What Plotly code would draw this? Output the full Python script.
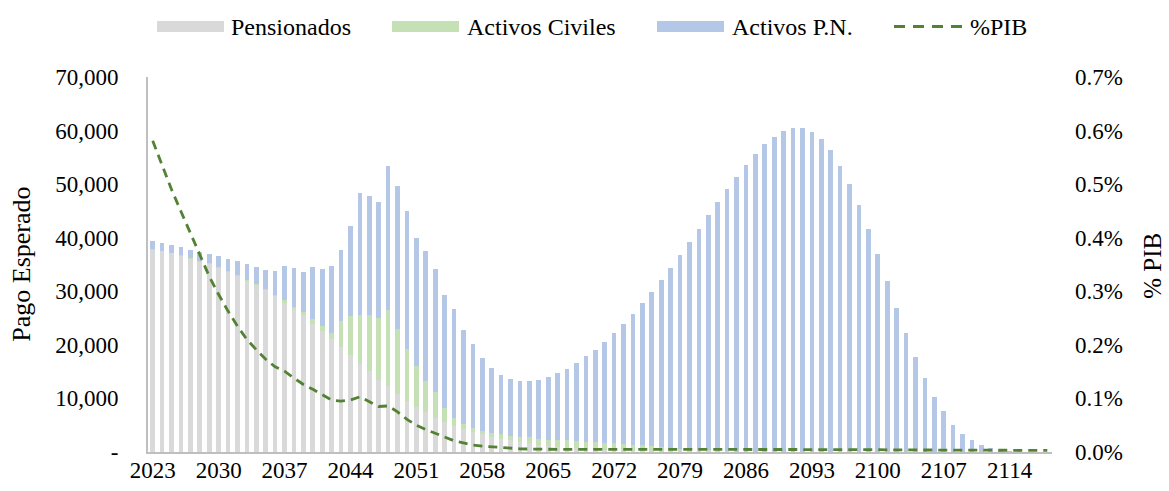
import plotly.graph_objects as go

years = list(range(2023, 2119))

pensionados = [
    37800, 37450, 37060, 36680, 36110, 35540, 35090, 34400, 33640, 32880,
    31930, 31100, 30150, 29070, 27880, 26710, 25500, 23970, 22600, 21110,
    19590, 18070, 16510, 15140, 13530, 12250, 10850, 9610, 8430, 7430,
    6370, 5690, 4940, 4320, 3760, 3270, 2890, 2460, 2150, 1840,
    1590, 1340, 1090, 960, 840, 720, 590, 470, 380, 300,
    230, 170, 120, 80, 50, 30, 20, 10, 5, 0,
    0, 0, 0, 0, 0, 0, 0, 0, 0, 0,
    0, 0, 0, 0, 0, 0, 0, 0, 0, 0,
    0, 0, 0, 0, 0, 0, 0, 0, 0, 0,
    0, 0, 0, 0, 0, 0,
]

activos_civiles = [
    150, 150, 160, 170, 180, 190, 200, 210, 220, 240,
    250, 270, 290, 320, 440, 430, 560, 900, 960, 1180,
    4850, 7400, 9140, 10360, 11500, 14340, 12130, 9700, 7710, 5780,
    4850, 2450, 1470, 1000, 750, 740, 750, 810, 870, 1050,
    1120, 1180, 1240, 1310, 1310, 1360, 1370, 1370, 1330, 1300,
    1280, 1170, 1150, 1070, 970, 810, 630, 520, 400, 300,
    200, 130, 80, 50, 30, 20, 10, 0, 0, 0,
    0, 0, 0, 0, 0, 0, 0, 0, 0, 0,
    0, 0, 0, 0, 0, 0, 0, 0, 0, 0,
    0, 0, 0, 0, 0, 0,
]

activos_pn = [
    1390, 1490, 1430, 1370, 1430, 1680, 1740, 1930, 2240, 2610,
    2990, 3180, 3490, 4350, 6480, 7280, 7620, 9740, 10610, 12510,
    13340, 16790, 22700, 22360, 21710, 26860, 26740, 25690, 23880, 24380,
    23020, 21180, 20240, 17540, 15670, 13500, 12000, 11130, 10630, 10390,
    10510, 11010, 11690, 12440, 13430, 14560, 15920, 17280, 18910, 20630,
    22460, 24500, 26560, 28790, 31160, 33580, 36070, 38620, 41230, 43890,
    46470, 48910, 51320, 53590, 55600, 57410, 58850, 59980, 60480, 60480,
    59800, 58430, 56380, 53450, 50090, 46180, 41700, 36970, 32000, 26960,
    22170, 17820, 13840, 10360, 7620, 5070, 3270, 2150, 1340, 780,
    400, 220, 100, 50, 20, 10,
]

pct_pib = [
    0.581, 0.535, 0.490, 0.449, 0.409, 0.368, 0.328, 0.294, 0.263, 0.235,
    0.210, 0.191, 0.173, 0.159, 0.151, 0.138, 0.126, 0.117, 0.107, 0.097,
    0.095, 0.097, 0.103, 0.094, 0.085, 0.086, 0.075, 0.061, 0.050, 0.042,
    0.035, 0.028, 0.021, 0.017, 0.013, 0.011, 0.0095, 0.008, 0.007, 0.006,
    0.0055, 0.005, 0.005, 0.005, 0.005, 0.005, 0.005, 0.005, 0.005, 0.005,
    0.005, 0.005, 0.005, 0.005, 0.005, 0.005, 0.005, 0.005, 0.005, 0.005,
    0.005, 0.005, 0.005, 0.005, 0.005, 0.005, 0.0055, 0.0055, 0.0055, 0.0055,
    0.005, 0.005, 0.005, 0.005, 0.005, 0.005, 0.0045, 0.0045, 0.004, 0.004,
    0.004, 0.0035, 0.0035, 0.003, 0.003, 0.003, 0.003, 0.003, 0.003, 0.003,
    0.003, 0.003, 0.003, 0.003, 0.003, 0.003,
]
pct_pib_frac = [v / 100 for v in pct_pib]

left_ticks = [0, 10000, 20000, 30000, 40000, 50000, 60000, 70000]
left_ticktext = ["-", "10,000", "20,000", "30,000", "40,000", "50,000", "60,000", "70,000"]
x_ticks = list(range(2023, 2115, 7))

legend_names = ["Pensionados", "Activos Civiles", "Activos P.N.", "%PIB"]
GRAY, GREEN, BLUE, LINE = "#D9D9D9", "#C5E0B4", "#B4C7E7", "#548235"

FONT = "Liberation Serif"
FS_TICK = 23
FS_LEG = 24
FS_TITLE = 25
W, H = 1169, 491
ML, MR, MT, MB = 148, 117, 77, 38.5
PW, PH = W - ML - MR, H - MT - MB


def px_x(px):
    return (px - ML) / PW


def px_y(py):
    return (H - MB - py) / PH


fig = go.Figure()
fig.add_trace(go.Bar(x=years, y=pensionados, name=legend_names[0], showlegend=False,
                     marker=dict(color=GRAY, line=dict(width=0))))
fig.add_trace(go.Bar(x=years, y=activos_civiles, name=legend_names[1], showlegend=False,
                     marker=dict(color=GREEN, line=dict(width=0))))
fig.add_trace(go.Bar(x=years, y=activos_pn, name=legend_names[2], showlegend=False,
                     marker=dict(color=BLUE, line=dict(width=0))))
fig.add_trace(go.Scatter(x=years, y=pct_pib_frac, name=legend_names[3], yaxis="y2",
                         mode="lines", showlegend=False,
                         line=dict(color=LINE, width=2.8, dash="9px,6px")))

# custom legend (wide keys like the reference)
shapes = []
annotations = []
key_x = [(157, 224), (392, 459), (657, 724), (894, 962)]
text_x = [229, 465, 730, 968]
key_colors = [GRAY, GREEN, BLUE]
for i in range(3):
    x0, x1 = key_x[i]
    shapes.append(dict(type="rect", xref="paper", yref="paper",
                       x0=px_x(x0), x1=px_x(x1), y0=px_y(32), y1=px_y(21),
                       fillcolor=key_colors[i], line=dict(width=0)))
x0, x1 = key_x[3]
shapes.append(dict(type="line", xref="paper", yref="paper",
                   x0=px_x(x0), x1=px_x(x1), y0=px_y(26.5), y1=px_y(26.5),
                   line=dict(color=LINE, width=3, dash="11px,8px")))
for i, name in enumerate(legend_names):
    annotations.append(dict(text=name, xref="paper", yref="paper",
                            x=px_x(text_x[i]), y=px_y(26.5), xanchor="left", yanchor="middle",
                            showarrow=False, font=dict(family=FONT, size=FS_LEG, color="#000")))

annotations.append(dict(text="Pago Esperado", xref="paper", yref="paper",
                        x=px_x(22), y=px_y(265), xanchor="center", yanchor="middle",
                        textangle=-90, showarrow=False,
                        font=dict(family=FONT, size=FS_TITLE + 1, color="#000")))
annotations.append(dict(text="% PIB", xref="paper", yref="paper",
                        x=px_x(1153), y=px_y(266), xanchor="center", yanchor="middle",
                        textangle=-90, showarrow=False,
                        font=dict(family=FONT, size=FS_TITLE, color="#000")))

fig.update_layout(
    width=W, height=H,
    barmode="stack", bargap=0.5,
    paper_bgcolor="white", plot_bgcolor="white",
    margin=dict(l=ML, r=MR, t=MT, b=MB, autoexpand=False),
    font=dict(family=FONT, size=FS_TICK, color="#000000"),
    showlegend=False,
    hovermode=False,
    shapes=shapes,
    annotations=annotations,
    xaxis=dict(range=[2022.5, 2118.5], tickmode="array", tickvals=x_ticks,
               ticktext=[str(t) for t in x_ticks], showgrid=False,
               showline=True, linecolor="#BFBFBF", linewidth=2, ticks="",
               tickfont=dict(family=FONT, size=FS_TICK), zeroline=False,
               automargin=False, ticklabelstandoff=-4),
    yaxis=dict(range=[0, 70000], tickmode="array", tickvals=left_ticks,
               ticktext=left_ticktext, showgrid=False, showline=True,
               linecolor="#BFBFBF", linewidth=2, ticks="", zeroline=False,
               tickfont=dict(family=FONT, size=FS_TICK), automargin=False,
               ticklabelstandoff=23),
    yaxis2=dict(range=[0, 0.007], overlaying="y", side="right", tickformat=".1%",
                dtick=0.001, tick0=0, showgrid=False, showline=False, ticks="",
                zeroline=False, tickfont=dict(family=FONT, size=FS_TICK), automargin=False,
                ticklabelstandoff=22),
)

fig.write_html("out.html", config={"displayModeBar": False, "staticPlot": True},
               post_script="document.body.style.margin='0';document.body.style.overflow='hidden';")
